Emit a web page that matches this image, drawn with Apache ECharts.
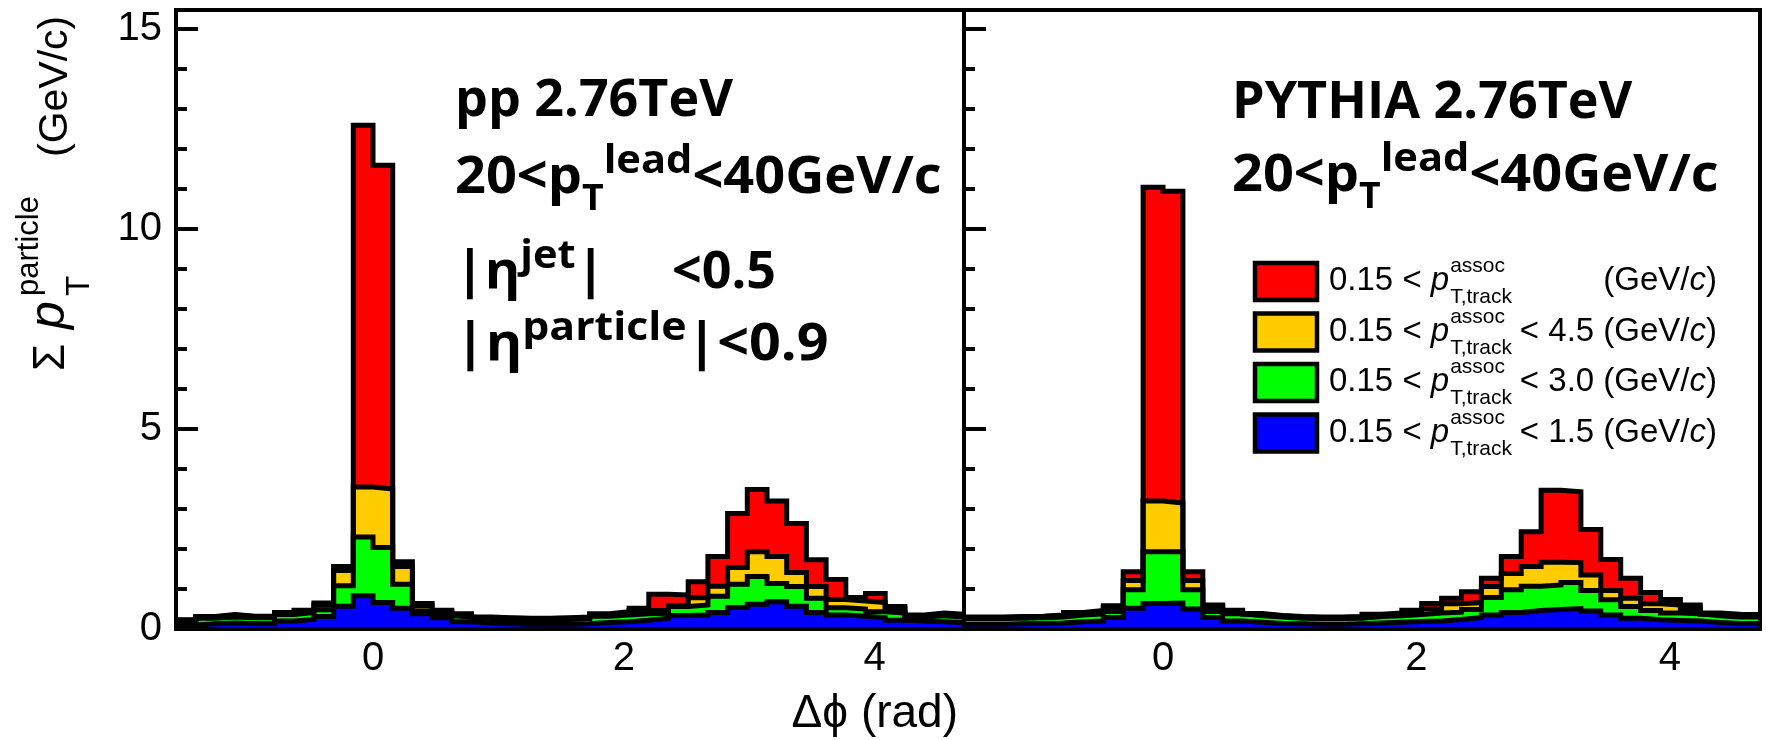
<!DOCTYPE html>
<html>
<head>
<meta charset="utf-8">
<script src="https://cdn.jsdelivr.net/npm/echarts@6/dist/echarts.min.js"></script>
<style>
  html, body { margin: 0; padding: 0; background: #fff; }
  #chart { width: 1766px; height: 740px; }
</style>
</head>
<body>
<div id="chart"></div>
<script>
// Δφ histograms: 40 bins of width π/20 from -π/2 to 3π/2
const PHI_MIN = -Math.PI / 2;
const PHI_MAX = 3 * Math.PI / 2;

// pp 2.76 TeV, summed pT per bin for each associated-track pT range
const ppAll     = [0.23,0.31,0.36,0.32,0.32,0.41,0.47,0.65,1.56,12.6, 11.6,1.68,0.64,0.47,0.38,0.30,0.28,0.27,0.27,0.28, 0.30,0.38,0.43,0.52,0.87,0.85,1.18,1.81,2.89,3.49, 3.20,2.64,1.73,1.24,0.79,0.89,0.56,0.35,0.40,0.37];
const ppBelow45 = [0.22,0.30,0.35,0.31,0.31,0.40,0.46,0.60,1.46,3.55, 3.50,1.56,0.58,0.43,0.36,0.29,0.27,0.26,0.26,0.27, 0.29,0.36,0.40,0.46,0.47,0.58,0.78,1.07,1.54,1.93, 1.81,1.41,1.06,0.74,0.70,0.66,0.50,0.33,0.38,0.35];
const ppBelow30 = [0.20,0.27,0.30,0.28,0.28,0.36,0.41,0.48,1.08,2.30, 2.04,1.12,0.45,0.33,0.30,0.26,0.24,0.23,0.23,0.24, 0.26,0.32,0.35,0.38,0.39,0.56,0.60,0.82,1.12,1.31, 1.14,1.06,0.77,0.53,0.50,0.43,0.40,0.30,0.33,0.30];
const ppBelow15 = [0.10,0.13,0.15,0.14,0.13,0.20,0.24,0.31,0.57,0.83, 0.66,0.52,0.38,0.28,0.18,0.15,0.13,0.12,0.12,0.12, 0.13,0.16,0.18,0.22,0.27,0.34,0.35,0.41,0.54,0.62, 0.68,0.57,0.41,0.35,0.32,0.28,0.22,0.20,0.18,0.16];

// PYTHIA 2.76 TeV
const pyAll     = [0.30,0.30,0.31,0.32,0.35,0.41,0.46,0.58,1.43,11.05, 10.95,1.43,0.60,0.47,0.39,0.34,0.31,0.30,0.30,0.31, 0.37,0.40,0.47,0.64,0.77,0.93,1.27,1.81,2.43,3.47, 3.43,2.49,1.74,1.27,0.91,0.74,0.60,0.40,0.37,0.36];
const pyBelow45 = [0.29,0.29,0.30,0.31,0.34,0.40,0.44,0.54,1.21,3.20, 3.15,1.21,0.55,0.44,0.37,0.33,0.30,0.29,0.29,0.30, 0.35,0.38,0.42,0.50,0.63,0.66,1.06,1.39,1.56,1.67, 1.66,1.35,0.96,0.77,0.63,0.60,0.50,0.37,0.35,0.34];
const pyBelow30 = [0.26,0.26,0.27,0.28,0.30,0.35,0.38,0.44,0.98,1.93, 1.93,0.98,0.44,0.38,0.33,0.30,0.27,0.26,0.26,0.27, 0.31,0.33,0.36,0.40,0.42,0.49,0.79,0.98,1.07,1.10, 1.16,0.96,0.73,0.56,0.46,0.40,0.38,0.33,0.30,0.30];
const pyBelow15 = [0.12,0.12,0.13,0.14,0.15,0.18,0.20,0.29,0.52,0.64, 0.65,0.50,0.29,0.20,0.17,0.14,0.13,0.12,0.12,0.13, 0.15,0.17,0.19,0.20,0.24,0.29,0.35,0.41,0.46,0.49, 0.51,0.45,0.35,0.27,0.23,0.21,0.20,0.16,0.14,0.14];

const xTickLabels = [0, 2, 4];
const yMajorTicks = [0, 5, 10, 15];
const yMinorTicks = [1, 2, 3, 4, 6, 7, 8, 9, 11, 12, 13, 14];
const Y_MAX = 15.48;

const layerColors = ['#ff0000', '#ffcc00', '#00ff00', '#0000ff'];
const layerUpper  = ['', '4.5', '3.0', '1.5'];   // upper pT cut of each range, GeV/c
const panels = [
  { name: 'pp', layers: [ppAll, ppBelow45, ppBelow30, ppBelow15] },
  { name: 'PYTHIA', layers: [pyAll, pyBelow45, pyBelow30, pyBelow15] }
];

// step points: left edge of each bin, plus the closing right edge
function histPoints(values) {
  const w = (PHI_MAX - PHI_MIN) / values.length;
  const pts = values.map((v, i) => [PHI_MIN + i * w, v]);
  pts.push([PHI_MAX, values[values.length - 1]]);
  return pts;
}

const measureCtx = document.createElement('canvas').getContext('2d');
function textWidth(str, font) { measureCtx.font = font; return measureCtx.measureText(str).width; }

// a run of text pieces sharing one baseline, with sub/superscript offsets;
// 'at' places a piece at a fixed offset, 'stack' makes the next piece start at the same x
function textRun(x0, baseline, parts, family, weight, sx) {
  sx = sx || 1;
  const els = [];
  let x = x0;
  let stackStart = null, stackWidth = 0;
  parts.forEach(p => {
    if (p.at !== undefined) { x = x0 + p.at; stackStart = null; }
    const style = p.italic ? 'italic' : 'normal';
    const font = `${style} ${weight} ${p.size}px ${family}`;
    const w = textWidth(p.t, font) * sx;
    els.push({
      type: 'text', x: x, y: baseline + (p.dy || 0) - 0.36 * p.size, scaleX: sx, silent: true,
      style: { text: p.t, fontSize: p.size, fontFamily: family, fontWeight: weight, fontStyle: style,
               fill: '#000', align: 'left', verticalAlign: 'middle' }
    });
    if (p.stack) {
      stackStart = x; stackWidth = w;
    } else if (stackStart !== null) {
      x = stackStart + Math.max(w, stackWidth) + (p.gap || 0);
      stackStart = null; stackWidth = 0;
    } else {
      x += w + (p.gap || 0);
    }
  });
  return els;
}

const BOLD = '"Open Sans"';
const SANS = '"Liberation Sans"';
const graphics = [];

// panel captions
const big = 52, sup = 40, sub = 36;
graphics.push(...textRun(455, 120, [{ t: 'pp 2.76TeV', size: big }], BOLD, 'bold'));
graphics.push(...textRun(455, 197, [
  { t: '20<p', size: big }, { t: 'T', size: sub, dy: 16 }, { t: 'lead', size: sup, dy: -21 }, { t: '<40GeV/c', size: big }
], BOLD, 'bold', 1.04));
graphics.push(...textRun(455, 292, [{ t: '|η', size: big }, { t: 'jet', size: sup, dy: -21 }, { t: '|', size: big }], BOLD, 'bold', 1.04));
graphics.push(...textRun(672, 292, [{ t: '<0.5', size: big }], BOLD, 'bold'));
graphics.push(...textRun(455, 364, [{ t: '|η', size: big }, { t: 'particle', size: sup, dy: -21 }, { t: '|<0.9', size: big }], BOLD, 'bold', 1.07));

graphics.push(...textRun(1232, 122, [{ t: 'PYTHIA 2.76TeV', size: big }], BOLD, 'bold'));
graphics.push(...textRun(1232, 195, [
  { t: '20<p', size: big }, { t: 'T', size: sub, dy: 16 }, { t: 'lead', size: sup, dy: -21 }, { t: '<40GeV/c', size: big }
], BOLD, 'bold', 1.04));

// legend: one filled box and label per pT range
const LEG_FONT = 33;
layerColors.forEach((c, i) => {
  const cy = 281 + i * 50.5;
  graphics.push({ type: 'rect', shape: { x: 1255, y: cy - 18, width: 62, height: 37 },
                  style: { fill: c, stroke: '#000', lineWidth: 4.5 }, silent: true });
  graphics.push(...textRun(1329, cy + 12, [
    { t: '0.15 < ', size: LEG_FONT },
    { t: 'p', size: LEG_FONT, italic: true, gap: 1 },
    { t: 'assoc', size: 21, dy: -19, stack: true }, { t: 'T,track', size: 21, dy: 12 }
  ], SANS, 'normal'));
  const tail = layerUpper[i] ? `< ${layerUpper[i]} (GeV/` : '(GeV/';
  const wTail = textWidth(tail, `normal normal ${LEG_FONT}px ${SANS}`);
  const wC = textWidth('c', `italic normal ${LEG_FONT}px ${SANS}`);
  const wP = textWidth(')', `normal normal ${LEG_FONT}px ${SANS}`);
  const xEnd = 1717;
  graphics.push(...textRun(xEnd - wTail - wC - wP, cy + 12, [
    { t: tail, size: LEG_FONT }, { t: 'c', size: LEG_FONT, italic: true }, { t: ')', size: LEG_FONT }
  ], SANS, 'normal'));
});

// x-axis title, right-aligned to the end of the first panel
(function () {
  const f = 46;
  const label = 'Δϕ (rad)';
  const w = textWidth(label, `normal normal ${f}px ${SANS}`);
  graphics.push(...textRun(958 - w, 731, [{ t: label, size: f }], SANS, 'normal'));
})();

// y-axis title, rotated to read upwards
graphics.push({
  type: 'group', x: 68, y: 371, rotation: Math.PI / 2, silent: true,
  children: textRun(0, 0, [
    { t: 'Σ', size: 44 },
    { t: 'p', size: 50, italic: true, at: 42 },
    { t: 'particle', size: 31, dy: -27, at: 75, stack: true }, { t: 'T', size: 33, dy: 24 },
    { t: '(GeV/c)', size: 41, at: 214, dy: 2 }
  ], SANS, 'normal')
});

const grids = [
  { left: 176, top: 10, width: 788, height: 619 },
  { left: 964, top: 10, width: 796, height: 619 }
].map(g => Object.assign(g, { show: true, borderColor: '#000', borderWidth: 4, backgroundColor: 'transparent', containLabel: false }));

const xAxes = grids.map((g, i) => ({
  gridIndex: i, type: 'value', min: PHI_MIN, max: PHI_MAX, z: 10,
  axisLine: { show: true, onZero: false, lineStyle: { color: '#000', width: 4 } },
  axisTick: { show: false },
  splitLine: { show: false },
  axisLabel: { customValues: xTickLabels, fontSize: 40, fontFamily: SANS, color: '#000', margin: 10 }
}));

const yAxes = [];
grids.forEach((g, i) => {
  yAxes.push({
    gridIndex: i, type: 'value', position: 'left', min: 0, max: Y_MAX, z: 10,
    axisLine: { show: true, onZero: false, lineStyle: { color: '#000', width: 4 } },
    axisTick: { show: true, inside: true, length: 22, customValues: yMajorTicks, lineStyle: { color: '#000', width: 4 } },
    axisLabel: { show: i === 0, customValues: yMajorTicks, fontSize: 40, fontFamily: SANS, color: '#000', margin: 14 },
    splitLine: { show: false }
  });
  yAxes.push({
    gridIndex: i, type: 'value', position: 'left', min: 0, max: Y_MAX, z: 10,
    axisLine: { show: false, onZero: false },
    axisTick: { show: true, inside: true, length: 11, customValues: yMinorTicks, lineStyle: { color: '#000', width: 4 } },
    axisLabel: { show: false },
    splitLine: { show: false }
  });
});
// right frame edge of the second panel
yAxes.push({
  gridIndex: 1, type: 'value', position: 'right', min: 0, max: Y_MAX, z: 10,
  axisLine: { show: true, onZero: false, lineStyle: { color: '#000', width: 4 } },
  axisTick: { show: false }, axisLabel: { show: false }, splitLine: { show: false }
});

const series = [];
panels.forEach((p, pi) => {
  p.layers.forEach((vals, li) => {
    series.push({
      name: `${p.name} ${layerUpper[li] || 'all'}`,
      type: 'line', xAxisIndex: pi, yAxisIndex: pi * 2,
      step: 'end', showSymbol: false, symbol: 'none', silent: true, clip: true,
      data: histPoints(vals),
      lineStyle: { color: '#000', width: 5, join: 'miter', cap: 'butt' },
      areaStyle: { color: layerColors[li], opacity: 1, origin: 'start' },
      z: 2
    });
  });
});

const chart = echarts.init(document.getElementById('chart'), null, { renderer: 'canvas' });
chart.setOption({
  animation: false,
  backgroundColor: '#fff',
  grid: grids,
  xAxis: xAxes,
  yAxis: yAxes,
  series: series,
  graphic: graphics
});
</script>
</body>
</html>
